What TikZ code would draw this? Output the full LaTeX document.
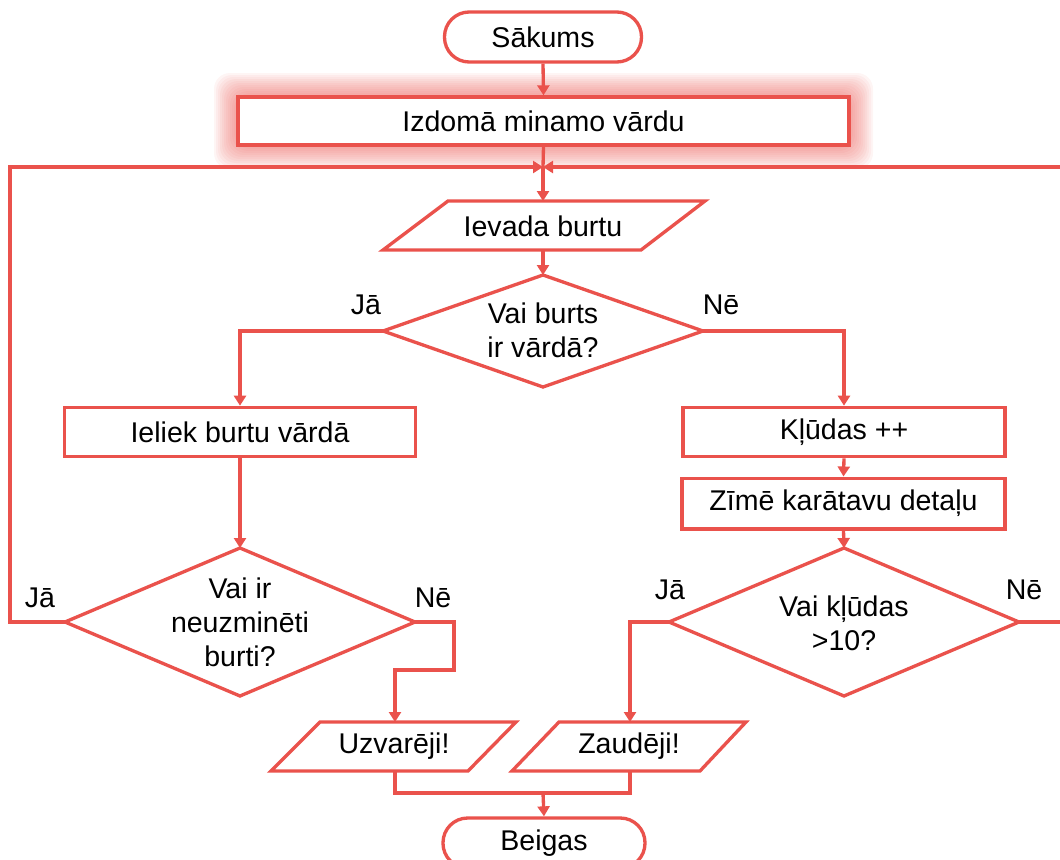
\documentclass[tikz,border=0pt]{standalone}
\usepackage{fontspec}
\setmainfont{Liberation Sans}
\usetikzlibrary{arrows.meta,calc}
\definecolor{fc}{RGB}{234,82,76}
\begin{document}
\begin{tikzpicture}[x=0.75pt,y=-0.75pt,
  shp/.style={draw=fc,line width=2.5pt,line join=miter,fill=white},
  ln/.style={draw=fc,line width=2.5pt,line join=miter},
  arr/.style={ln,-{Triangle[length=7.5pt,width=9pt]}},
  txt/.style={font=\fontsize{21.4}{25.5}\selectfont,align=center,inner sep=0pt},
  term/.style={shp,txt,rounded corners=18.5pt,minimum height=37.5pt},
  proc/.style={shp,txt,minimum height=37pt}]
\useasboundingbox (0,0) rectangle (1060,860);
% glow
\foreach \o in {24,22,...,2}{
  \fill[fc,opacity=0.06,rounded corners=12pt] (238-\o,97-\o) rectangle (849+\o,145+\o);
}
% terminals and boxes
\node[term,minimum width=147.75pt] (start) at (543,37) {Sākums};
\node[proc,minimum width=458.25pt,minimum height=36pt] (init) at (543.5,121) {Izdomā minamo vārdu};
\node[proc,minimum width=263.25pt] (put) at (240,432) {Ieliek burtu vārdā};
\node[proc,minimum width=241.5pt] (err) at (844,432) {Kļūdas ++};
\node[proc,minimum width=242.25pt,minimum height=38pt] (draw) at (843.5,503.5) {Zīmē karātavu detaļu};
\node[term,minimum width=151.5pt] (end) at (544,843) {Beigas};
% input parallelogram
\draw[shp] (448,201) -- (705,201) -- (641,250) -- (383,250) -- cycle;
\node[txt] (in) at (543,226) {Ievada burtu};
\coordinate (inT) at (543,201);
\coordinate (inB) at (543,250);
% diamond 1
\draw[shp] (543,275) -- (703,331) -- (543,387) -- (383,331) -- cycle;
\node[txt] (q1) at (543,330) {Vai burts\\ir vārdā?};
\coordinate (q1T) at (543,275);
\coordinate (q1L) at (383,331);
\coordinate (q1R) at (703,331);
% diamond 2
\draw[shp] (240,548) -- (415,622) -- (240,696) -- (65,622) -- cycle;
\node[txt] (q2) at (240,622) {Vai ir\\neuzminēti\\burti?};
\coordinate (q2T) at (240,548);
\coordinate (q2L) at (65,622);
\coordinate (q2R) at (415,622);
% diamond 3
\draw[shp] (844,548) -- (1019,622) -- (844,696) -- (669,622) -- cycle;
\node[txt] (q3) at (844,623) {Vai kļūdas\\>10?};
\coordinate (q3T) at (844,548);
\coordinate (q3L) at (669,622);
\coordinate (q3R) at (1019,622);
% output parallelograms
\draw[shp] (320,722) -- (516,722) -- (468,771) -- (271,771) -- cycle;
\node[txt] (win) at (394,746) {Uzvarēji!};
\coordinate (winT) at (395,722);
\coordinate (winB) at (395,771);
\draw[shp] (559,722) -- (746,722) -- (700,771) -- (512,771) -- cycle;
\node[txt] (lose) at (629,746) {Zaudēji!};
\coordinate (loseT) at (630,722);
\coordinate (loseB) at (630,771);
% labels
\node[txt] (l1) at (366,305) {Jā};
\node[txt] (l2) at (721,305) {Nē};
\node[txt] (l3) at (40,598) {Jā};
\node[txt] (l4) at (433,598) {Nē};
\node[txt] (l5) at (670,590) {Jā};
\node[txt] (l6) at (1024,590) {Nē};
% connector points
\coordinate (join) at (543,167);
\coordinate (lc1) at (10,622);
\coordinate (lc2) at (10,167);
\coordinate (rc1) at (1064,622);
\coordinate (rc2) at (1064,167);
\coordinate (nc1) at (454,622);
\coordinate (nc2) at (454,670);
\coordinate (nc3) at (395,670);
\coordinate (jc) at (630,622);
\coordinate (m1) at (395,793);
\coordinate (m2) at (630,793);
\coordinate (mm) at (543,793);
% connectors
\draw[arr] (start.south) -- (init.north);
\draw[ln] (init.south) -- (join);
\draw[arr] (join) -- (inT);
\draw[arr] (inB) -- (q1T);
\draw[arr] (q1L) -| (put.north);
\draw[arr] (q1R) -| (err.north);
\draw[arr] (err.south) -- (draw.north);
\draw[arr] (draw.south) -- (q3T);
\draw[arr] (put.south) -- (q2T);
\draw[arr] (q2L) -- (lc1) -- (lc2) -- (join);
\draw[arr] (q3R) -- (rc1) -- (rc2) -- (join);
\draw[arr] (q2R) -- (nc1) -- (nc2) -- (nc3) -- (winT);
\draw[arr] (q3L) -- (jc) -- (loseT);
\draw[ln] (winB) -- (m1) -- (m2) -- (loseB);
\draw[arr] (mm) -- (end.north);
\end{tikzpicture}
\end{document}
